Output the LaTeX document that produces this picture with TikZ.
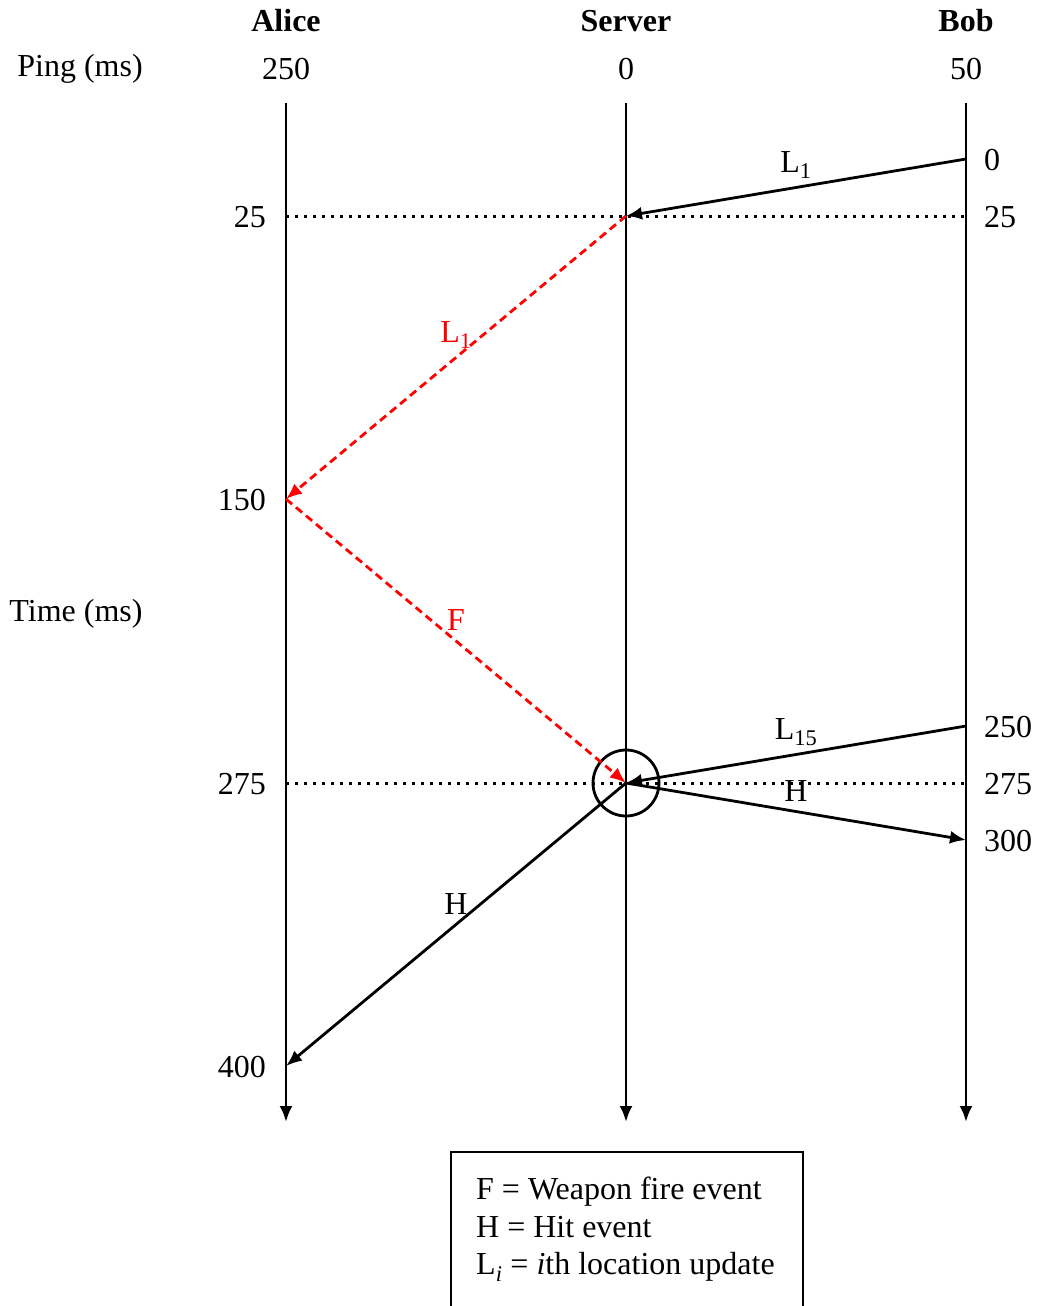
\documentclass[tikz,border=0pt]{standalone}
\usepackage{fontspec}
\setmainfont{Liberation Serif}
\usetikzlibrary{arrows.meta}
\begin{document}
\begin{tikzpicture}[x=1pt,y=-1pt,
  every node/.style={font=\fontsize{32}{37.5}\selectfont, inner sep=0pt},
  hdr/.style={font=\fontsize{32}{37.5}\selectfont\bfseries, anchor=base},
  life/.style={line width=2.8pt, -{Latex[length=16pt,width=13pt]}},
  msg/.style={line width=2.8pt, -{Latex[length=16pt,width=13pt]}},
  redmsg/.style={msg, red, dash pattern=on 8pt off 5pt},
  dots/.style={line width=3pt, dash pattern=on 3pt off 6pt},
  lblL/.style={anchor=base, yshift=15.5pt},
  lblH/.style={anchor=base, yshift=10.5pt},
  lefttime/.style={anchor=east},
  righttime/.style={anchor=west},
]
\clip (0,0) rectangle (1041,1306);
% headers
\node[hdr] (alice) at (286,32) {Alice};
\node[hdr] (server) at (626,32) {Server};
\node[hdr] (bob) at (966,32) {Bob};
\node[anchor=base] (ping) at (80,77) {Ping (ms)};
\node[anchor=base] (pa) at (286,80) {250};
\node[anchor=base] (ps) at (626,80) {0};
\node[anchor=base] (pb) at (966,80) {50};
\node[anchor=base] (timelbl) at (76,621) {Time (ms)};
% lifelines
\coordinate (atop) at (286,103); \coordinate (abot) at (286,1122);
\coordinate (stop) at (626,103); \coordinate (sbot) at (626,1122);
\coordinate (btop) at (966,103); \coordinate (bbot) at (966,1122);
\draw[life] (atop) -- (abot);
\draw[life] (stop) -- (sbot);
\draw[life] (btop) -- (bbot);
% event points
\coordinate (b0) at (966,159);
\coordinate (a25) at (286,216);
\coordinate (s25) at (626,216);
\coordinate (b25) at (966,216);
\coordinate (a150) at (286,499);
\coordinate (b250) at (966,726);
\coordinate (a275) at (286,783);
\coordinate (s275) at (626,783);
\coordinate (b275) at (966,783);
\coordinate (b300) at (966,840);
\coordinate (a400) at (286,1066);
% time labels
\node[lefttime] (t25) at (266,217) {25};
\node[lefttime] (t150) at (266,500) {150};
\node[lefttime] (t275) at (266,784) {275};
\node[lefttime] (t400) at (266,1067) {400};
\node[righttime] (r0) at (984,160) {0};
\node[righttime] (r25) at (984,217) {25};
\node[righttime] (r250) at (984,727) {250};
\node[righttime] (r275) at (984,784) {275};
\node[righttime] (r300) at (984,841) {300};
% dotted lines
\draw[dots] (a25) -- (b25);
\draw[dots] (a275) -- (b275);
% hit circle
\node[draw, circle, minimum size=66pt, line width=2.8pt] (hit) at (s275) {};
% messages
\draw[msg] (b0) -- node[lblL] (l1) {L\textsubscript{1}} (s25);
\draw[redmsg] (s25) -- node[lblL, text=red] (l1r) {L\textsubscript{1}} (a150);
\draw[redmsg] (a150) -- node[lblH, text=red] (f) {F} (s275);
\draw[msg] (b250) -- node[lblL] (l15) {L\textsubscript{15}} (s275);
\draw[msg] (s275) -- node[lblH] (h1) {H} (b300);
\draw[msg] (s275) -- node[lblH] (h2) {H} (a400);
% legend
\node[draw, line width=2.2pt, anchor=north west, minimum width=352pt, minimum height=200pt] (legend) at (450,1151) {};
\node[anchor=north west, align=left] (legtext) at (476,1177) {F = Weapon fire event\\H = Hit event\\L\textsubscript{\textit{i}} = \textit{i}th location update};
\end{tikzpicture}
\end{document}
